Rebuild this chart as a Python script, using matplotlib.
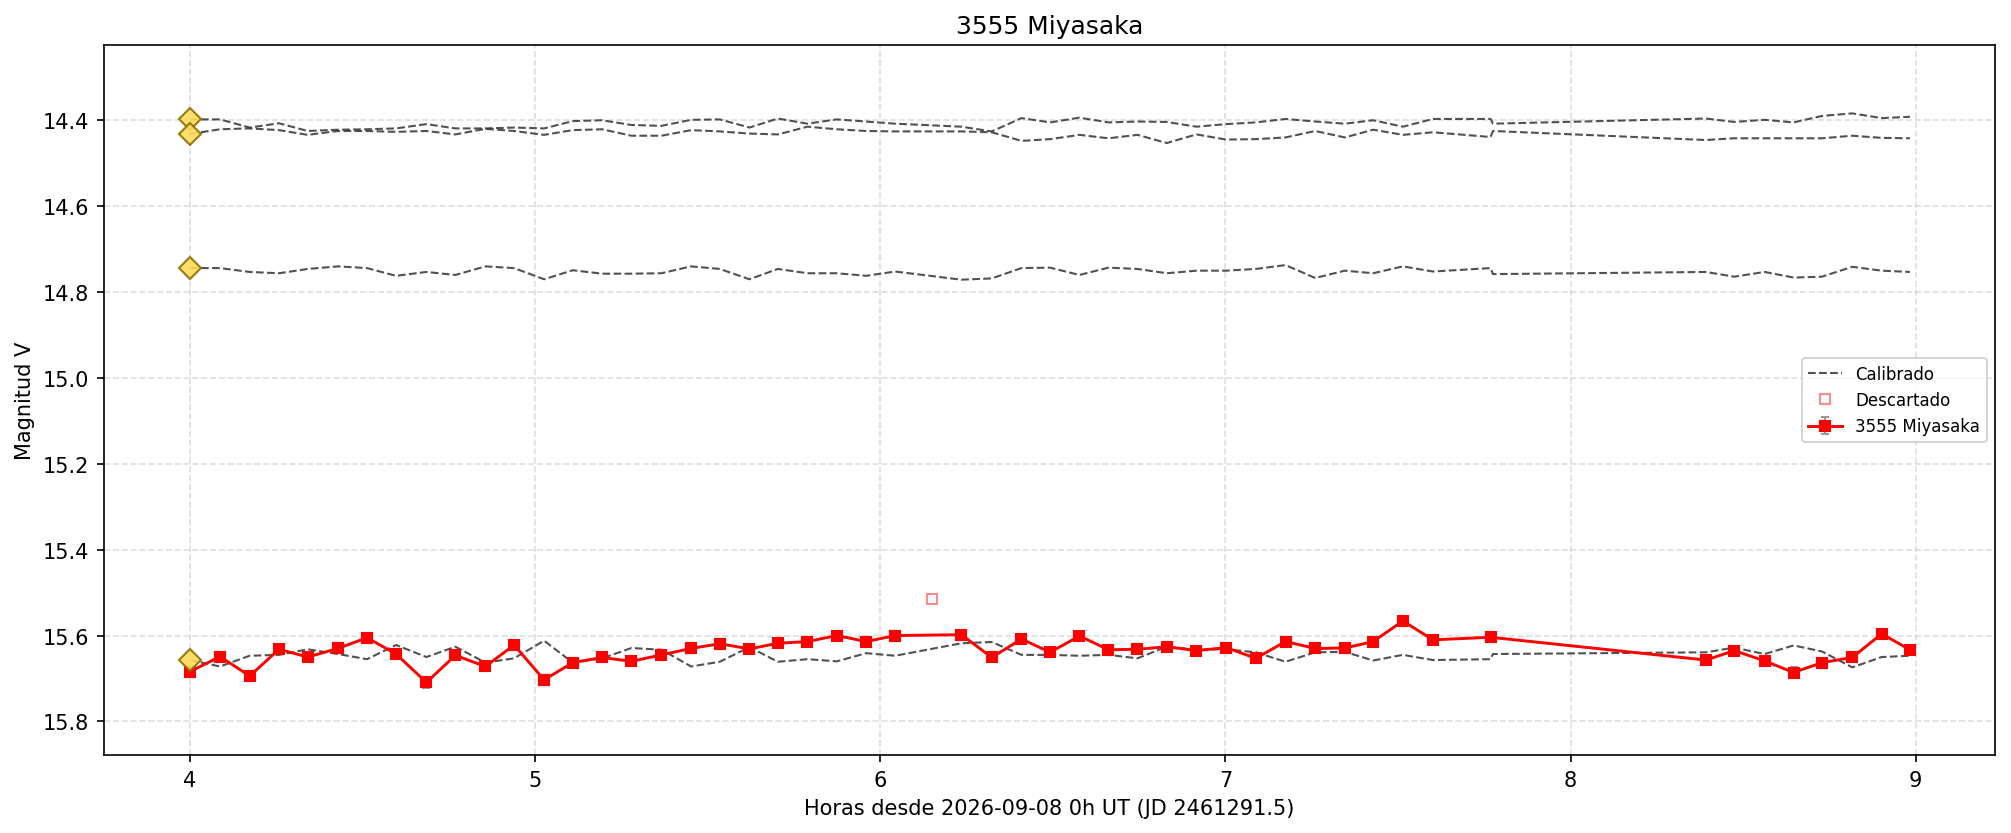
import matplotlib
matplotlib.use("Agg")
import matplotlib.pyplot as plt

# hours since 2026-09-08 0h UT, asteroid frames
hours = [4.000, 4.087, 4.173, 4.258, 4.341, 4.429, 4.513, 4.597, 4.685, 4.769,
         4.856, 4.939, 5.026, 5.109, 5.194, 5.279, 5.366, 5.452, 5.535, 5.621,
         5.703, 5.789, 5.874, 5.959, 6.043, 6.235, 6.323, 6.409, 6.492, 6.577,
         6.661, 6.745, 6.830, 6.916, 7.002, 7.088, 7.174, 7.260, 7.346, 7.428,
         7.514, 7.601, 7.768, 8.392, 8.474, 8.562, 8.646, 8.728, 8.816, 8.901,
         8.983]

mag_ast = [15.684, 15.649, 15.694, 15.632, 15.650, 15.630, 15.605, 15.643, 15.709, 15.646,
           15.672, 15.622, 15.703, 15.663, 15.651, 15.660, 15.645, 15.630, 15.619, 15.631,
           15.618, 15.614, 15.600, 15.614, 15.600, 15.598, 15.651, 15.608, 15.639, 15.601,
           15.633, 15.632, 15.626, 15.635, 15.628, 15.653, 15.614, 15.630, 15.629, 15.614,
           15.566, 15.610, 15.604, 15.657, 15.635, 15.659, 15.686, 15.663, 15.651, 15.596,
           15.633]

err_ast = [0.011, 0.010, 0.011, 0.010, 0.011, 0.010, 0.010, 0.011, 0.012, 0.010,
           0.011, 0.010, 0.012, 0.011, 0.010, 0.011, 0.010, 0.010, 0.010, 0.010,
           0.010, 0.010, 0.010, 0.010, 0.010, 0.010, 0.011, 0.010, 0.010, 0.010,
           0.010, 0.010, 0.010, 0.010, 0.010, 0.011, 0.010, 0.010, 0.010, 0.010,
           0.010, 0.010, 0.010, 0.011, 0.010, 0.011, 0.012, 0.011, 0.011, 0.010,
           0.010]

# discarded point
disc_hours = [6.150]
disc_mag = [15.515]

# comparison stars (calibrated), one extra frame at 7.775
comp_hours = [4.000, 4.087, 4.173, 4.258, 4.341, 4.429, 4.513, 4.597, 4.685, 4.769,
              4.856, 4.939, 5.026, 5.109, 5.194, 5.279, 5.366, 5.452, 5.535, 5.621,
              5.703, 5.789, 5.874, 5.959, 6.043, 6.235, 6.323, 6.409, 6.492, 6.577,
              6.661, 6.745, 6.830, 6.916, 7.002, 7.088, 7.174, 7.260, 7.346, 7.428,
              7.514, 7.601, 7.768, 7.775, 8.392, 8.474, 8.562, 8.646, 8.728, 8.816,
              8.901, 8.983]

comp1 = [14.399, 14.399, 14.418, 14.408, 14.426, 14.423, 14.422, 14.420, 14.410, 14.420,
         14.420, 14.418, 14.420, 14.403, 14.401, 14.412, 14.414, 14.400, 14.399, 14.418,
         14.397, 14.409, 14.399, 14.404, 14.409, 14.416, 14.427, 14.396, 14.406, 14.395,
         14.406, 14.404, 14.405, 14.416, 14.410, 14.406, 14.398, 14.404, 14.409, 14.401,
         14.416, 14.398, 14.398, 14.409, 14.397, 14.405, 14.400, 14.406, 14.391, 14.385,
         14.396, 14.393]

comp2 = [14.433, 14.422, 14.420, 14.424, 14.435, 14.426, 14.426, 14.428, 14.426, 14.434,
         14.421, 14.426, 14.435, 14.424, 14.422, 14.437, 14.437, 14.424, 14.427, 14.432,
         14.434, 14.416, 14.422, 14.426, 14.427, 14.427, 14.429, 14.449, 14.445, 14.435,
         14.443, 14.435, 14.454, 14.434, 14.446, 14.445, 14.441, 14.426, 14.441, 14.423,
         14.435, 14.429, 14.440, 14.426, 14.447, 14.443, 14.443, 14.443, 14.443, 14.437,
         14.442, 14.443]

comp3 = [14.745, 14.745, 14.754, 14.757, 14.747, 14.741, 14.745, 14.763, 14.754, 14.761,
         14.741, 14.745, 14.771, 14.750, 14.758, 14.758, 14.757, 14.741, 14.747, 14.771,
         14.747, 14.757, 14.757, 14.763, 14.753, 14.772, 14.769, 14.745, 14.744, 14.761,
         14.744, 14.747, 14.757, 14.751, 14.751, 14.747, 14.738, 14.768, 14.751, 14.757,
         14.741, 14.753, 14.745, 14.759, 14.754, 14.765, 14.754, 14.767, 14.765, 14.742,
         14.751, 14.754]

comp4 = [15.657, 15.672, 15.647, 15.645, 15.632, 15.643, 15.655, 15.622, 15.650, 15.626,
         15.663, 15.653, 15.612, 15.663, 15.653, 15.629, 15.633, 15.672, 15.661, 15.627,
         15.661, 15.655, 15.660, 15.641, 15.647, 15.618, 15.615, 15.645, 15.645, 15.647,
         15.645, 15.653, 15.626, 15.633, 15.632, 15.639, 15.661, 15.639, 15.638, 15.658,
         15.645, 15.657, 15.655, 15.643, 15.639, 15.628, 15.643, 15.623, 15.637, 15.674,
         15.650, 15.647]

comps = [comp1, comp2, comp3, comp4]

fig, ax = plt.subplots(figsize=(13.413, 5.56), dpi=150)
fig.subplots_adjust(left=0.0517, right=0.9915, bottom=0.0935, top=0.9448)

for i, c in enumerate(comps):
    ax.plot(comp_hours, c, "--", color="#333333", alpha=0.85, lw=1.0,
            label="Calibrado" if i == 0 else None, zorder=2)
    ax.plot(comp_hours[0], c[0], "D", ms=7.5, mfc="#FFDB5C", mec="#8B6F00",
            mew=1.0, alpha=0.9, zorder=5)

ax.plot(disc_hours, disc_mag, "s", ms=4.5, mfc="none", mec="red", mew=1.0,
        alpha=0.45, ls="none", label="Descartado", zorder=3)

ax.errorbar(hours, mag_ast, yerr=err_ast, fmt="-s", color="red", ms=5, lw=1.4,
            ecolor="#999999", elinewidth=1.0, capsize=2, label="3555 Miyasaka",
            zorder=4)

ax.set_xlim(3.751, 9.229)
ax.set_ylim(15.878, 14.226)
ax.grid(True, linestyle="--", alpha=0.4)
ax.set_title("3555 Miyasaka", fontsize=12)
ax.set_xlabel("Horas desde 2026-09-08 0h UT (JD 2461291.5)")
ax.set_ylabel("Magnitud V")
ax.legend(loc="center right", fontsize=8)

fig.savefig("out.png", dpi=150)
